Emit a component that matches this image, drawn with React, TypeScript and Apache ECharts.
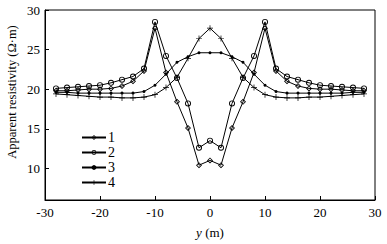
import React, { useEffect, useRef } from "react";
import * as echarts from "echarts";

const xs = [-28, -26, -24, -22, -20, -18, -16, -14, -12, -10, -8, -6, -4, -2, 0, 2, 4, 6, 8, 10, 12, 14, 16, 18, 20, 22, 24, 26, 28];
const series1 = [19.8, 19.8, 19.9, 20.0, 20.0, 20.1, 20.4, 21.0, 22.3, 27.7, 22.1, 18.4, 15.1, 10.4, 11.0, 10.4, 15.1, 18.4, 22.1, 27.7, 22.3, 21.0, 20.4, 20.1, 20.0, 20.0, 19.9, 19.8, 19.8];
const series2 = [20.1, 20.2, 20.3, 20.4, 20.5, 20.8, 21.2, 21.6, 22.6, 28.5, 24.2, 21.4, 18.2, 12.6, 13.5, 12.6, 18.2, 21.4, 24.2, 28.5, 22.6, 21.6, 21.2, 20.8, 20.5, 20.4, 20.3, 20.2, 20.1];
const series3 = [19.6, 19.6, 19.5, 19.5, 19.5, 19.5, 19.5, 19.5, 19.7, 20.5, 21.9, 23.4, 24.1, 24.6, 24.6, 24.6, 24.1, 23.4, 21.9, 20.5, 19.7, 19.5, 19.5, 19.5, 19.5, 19.5, 19.5, 19.6, 19.6];
const series4 = [19.4, 19.3, 19.2, 19.1, 19.0, 19.0, 18.9, 18.9, 19.0, 19.3, 20.2, 21.5, 23.9, 26.4, 27.7, 26.4, 23.9, 21.5, 20.2, 19.3, 19.0, 18.9, 18.9, 19.0, 19.0, 19.1, 19.2, 19.3, 19.4];
const seriesNames = ["1", "2", "3", "4"];
const yTicks = [10, 15, 20, 25, 30];

const FONT = "'Liberation Serif', 'DejaVu Serif', serif";
const PLUS = "path://M4.4,0H5.6V4.4H10V5.6H5.6V10H4.4V5.6H0V4.4H4.4Z";
const RING = "path://M0,5A5,5 0 1,0 10,5A5,5 0 1,0 0,5ZM1.5,5A3.5,3.5 0 1,1 8.5,5A3.5,3.5 0 1,1 1.5,5Z";
const DIAMOND = "path://M5,0L10,5L5,10L0,5ZM5,2L2,5L5,8L8,5Z";

export default function App() {
  const ref = useRef<HTMLDivElement>(null);
  useEffect(() => {
    if (!ref.current) return;
    const chart = echarts.init(ref.current, null, { renderer: "svg" });
    const mk = (vals: number[]) => xs.map((x, i) => [x, vals[i]]);
    const base = {
      type: "line",
      lineStyle: { color: "#000", width: 1 },
      emphasis: { disabled: true },
    };
    const solid = { color: "#000", borderColor: "#000", borderWidth: 0 };
    chart.setOption({
      animation: false,
      backgroundColor: "#fff",
      grid: { left: 45, right: 12, top: 10, bottom: 42, show: true, borderColor: "#000", borderWidth: 1 },
      legend: {
        orient: "vertical",
        left: 76,
        top: 125,
        itemWidth: 24,
        itemHeight: 6,
        itemGap: 0,
        textStyle: { fontFamily: FONT, fontSize: 14, lineHeight: 15, color: "#000", padding: [0, 0, 0, -3] },
        data: seriesNames,
      },
      xAxis: {
        type: "value",
        min: -30,
        max: 30,
        interval: 10,
        axisLine: { show: true, onZero: false, lineStyle: { color: "#000", width: 1 } },
        axisTick: { show: true, inside: true, length: 4, lineStyle: { color: "#000" } },
        axisLabel: { fontFamily: FONT, fontSize: 13, color: "#000", margin: 6 },
        splitLine: { show: false },
        name: "{i|y} (m)",
        nameLocation: "middle",
        nameGap: 26,
        nameTextStyle: {
          fontFamily: FONT,
          fontSize: 13,
          color: "#000",
          rich: { i: { fontFamily: FONT, fontSize: 13, fontStyle: "italic", color: "#000" } },
        },
      },
      yAxis: {
        type: "value",
        min: 6,
        max: 30,
        axisLine: { show: true, onZero: false, lineStyle: { color: "#000", width: 1 } },
        axisTick: { show: true, inside: true, length: 4, lineStyle: { color: "#000" }, customValues: yTicks },
        axisLabel: { fontFamily: FONT, fontSize: 13, color: "#000", margin: 5, customValues: yTicks },
        splitLine: { show: false },
      },
      graphic: [
        {
          type: "text",
          x: 12,
          y: 92,
          rotation: Math.PI / 2,
          style: {
            text: "Apparent resistivity (Ω·m)",
            fontFamily: FONT,
            fontSize: 12.5,
            fill: "#000",
            align: "center",
            verticalAlign: "middle",
          },
        },
      ],
      series: [
        { ...base, name: "1", data: mk(series1), symbol: DIAMOND, symbolSize: 6, itemStyle: solid, z: 4 },
        { ...base, name: "2", data: mk(series2), symbol: RING, symbolSize: 6, itemStyle: solid, z: 4 },
        { ...base, name: "3", data: mk(series3), symbol: "circle", symbolSize: 3, itemStyle: solid },
        { ...base, name: "4", data: mk(series4), symbol: PLUS, symbolSize: 6, itemStyle: solid },
      ],
    });
    return () => chart.dispose();
  }, []);
  return <div ref={ref} style={{ position: "fixed", left: 0, top: 0, width: 387, height: 244 }} />;
}
